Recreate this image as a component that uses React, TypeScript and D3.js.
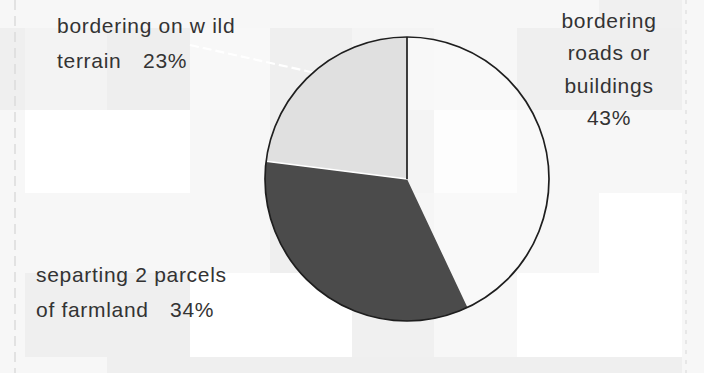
import React from "react";
import * as d3 from "d3";

// ---- data ----
const categories = [
  "bordering roads or buildings",
  "separting 2 parcels of farmland",
  "bordering on w ild terrain",
];
const values = [43, 34, 23];
const labelLines = [
  ["bordering", "roads or", "buildings"],
  ["separting 2 parcels", "of farmland"],
  ["bordering on w ild", "terrain"],
];

// ---- decoration: faint scanned-paper mosaic (grey levels) ----
const bgX = [0, 25, 107, 190, 270, 352, 434, 517, 599, 682, 704];
const bgY = [0, 28, 110, 193, 273, 357, 373];
const bgTones = [
  [247, 247, 247, 247, 247, 247, 247, 247, 240, 247],
  [239, 243, 238, 248, 239, 244, 247, 239, 239, 247],
  [247, 255, 255, 247, 239, 235, 255, 247, 247, 247],
  [247, 247, 247, 247, 239, 239, 247, 247, 255, 247],
  [247, 239, 239, 255, 255, 240, 247, 255, 255, 247],
  [247, 247, 239, 239, 239, 239, 239, 239, 239, 247],
];

const W = 704;
const H = 373;
const CX = 407;
const CY = 179;
const R = 142;
const FILLS = ["#fbfbfb", "#4b4b4b", "#e0e0e0"];
const TEXT = "#333333";
const FONT = "'Liberation Sans', Arial, sans-serif";

export default function App() {
  const pie = d3
    .pie<number>()
    .sort(null)
    .value((d) => d)
    .startAngle(0)
    .endAngle(2 * Math.PI);
  const arcs = pie(values);
  const arcGen = d3.arc<d3.PieArcDatum<number>>().innerRadius(0).outerRadius(R);

  const edgePoint = (angle: number, r: number) => [
    r * Math.sin(angle),
    -r * Math.cos(angle),
  ];
  const mid = (a: d3.PieArcDatum<number>) => (a.startAngle + a.endAngle) / 2;

  const farm = arcs[1];
  const wild = arcs[2];
  const [fx, fy] = edgePoint(mid(farm), R);
  const [wx, wy] = edgePoint(mid(wild), R);
  const [sx0, sy0] = edgePoint(arcs[0].startAngle, R);
  const [sx2, sy2] = edgePoint(wild.startAngle, R);

  const fontSize = 21;

  return (
    <svg
      width={W}
      height={H}
      style={{ position: "absolute", left: 0, top: 0, display: "block" }}
      fontFamily={FONT}
    >
      {bgTones.map((row, ri) =>
        row.map((t, ci) => (
          <rect
            key={`bg-${ri}-${ci}`}
            x={bgX[ci]}
            y={bgY[ri]}
            width={bgX[ci + 1] - bgX[ci]}
            height={bgY[ri + 1] - bgY[ri]}
            fill={d3.rgb(t, t, t).formatHex()}
          />
        ))
      )}
      <line x1={15} y1={0} x2={15} y2={H} stroke="#dcdcdc" strokeWidth={1.5} strokeDasharray="10 6" />
      <line x1={686} y1={0} x2={686} y2={H} stroke="#e2e2e2" strokeWidth={1.5} strokeDasharray="4 6" />

      {/* leader lines */}
      <line x1={190} y1={45} x2={CX + wx} y2={CY + wy} stroke="#ffffff" strokeWidth={2.2} strokeDasharray="9 4" />
      <line x1={225} y1={CY + fy} x2={CX + fx} y2={CY + fy} stroke="#ffffff" strokeWidth={2.2} strokeDasharray="9 4" />

      <g transform={`translate(${CX},${CY})`}>
        {arcs.map((a, i) => (
          <path key={categories[i]} d={arcGen(a) || ""} fill={FILLS[i]} fillOpacity={i === 0 ? 0.55 : 1} />
        ))}
        <line x1={0} y1={0} x2={sx2} y2={sy2} stroke="#ffffff" strokeWidth={1.5} />
        <circle r={R} fill="none" stroke="#1e1e1e" strokeWidth={1.7} />
        <line x1={0} y1={0} x2={sx0} y2={sy0} stroke="#1e1e1e" strokeWidth={1.7} />
      </g>

      {/* labels */}
      <g fill={TEXT} fontSize={fontSize} letterSpacing={0.7}>
        <text x={609} textAnchor="middle">
          {labelLines[0].map((l, i) => (
            <tspan key={l} x={609} y={28 + i * 32.3}>{l}</tspan>
          ))}
          <tspan x={609} y={28 + 3 * 32.3}>{`${values[0]}%`}</tspan>
        </text>

        <text x={57}>
          <tspan x={57} y={33}>{labelLines[2][0]}</tspan>
          <tspan x={57} y={68}>{labelLines[2][1]}</tspan>
          <tspan x={143} y={68}>{`${values[2]}%`}</tspan>
        </text>

        <text x={36}>
          <tspan x={36} y={282}>{labelLines[1][0]}</tspan>
          <tspan x={36} y={317}>{labelLines[1][1]}</tspan>
          <tspan x={170} y={317}>{`${values[1]}%`}</tspan>
        </text>
      </g>
    </svg>
  );
}
